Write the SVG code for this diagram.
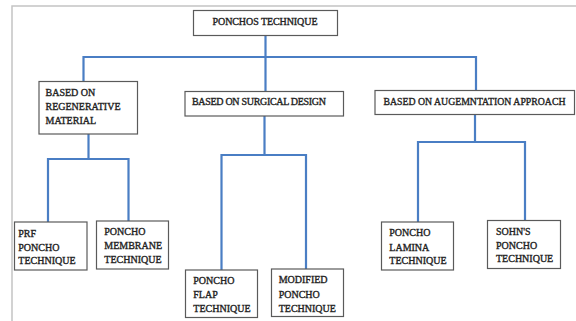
<svg xmlns="http://www.w3.org/2000/svg" width="576" height="321" viewBox="0 0 576 321">
<style>
.bg{fill:#ffffff}
.frame{fill:none;stroke:#c4c4c4;stroke-width:1.5}
.box{fill:#ffffff;stroke:#5a5a5a;stroke-width:1.2}
.lbl{font-family:"Liberation Serif","Times New Roman",serif;font-size:10px;font-weight:normal;fill:#222222;stroke:#222222;stroke-width:0.35}
.conn{fill:none;stroke:#4a7ec4;stroke-width:2.2;stroke-linejoin:miter}
</style>
<rect class="bg" x="0" y="0" width="576" height="321"/>
<path class="frame" d="M12,321 V6 H576"/>
<g id="connectors">
<path class="conn" d="M265.5,35.5 V57"/>
<path class="conn" d="M83.5,82 V57 H476 V91"/>
<path class="conn" d="M265.5,57 V92"/>
<path class="conn" d="M88.5,134 V159"/>
<path class="conn" d="M48,222 V159 H128.5 V221"/>
<path class="conn" d="M264.5,116 V155"/>
<path class="conn" d="M221.5,270 V155 H306 V269"/>
<path class="conn" d="M475,114.5 V142"/>
<path class="conn" d="M418,222 V142 H525 V221"/>
</g>
<g id="root">
<rect class="box" x="193.5" y="10.5" width="144" height="25"/>
<text class="lbl" x="212.5" y="25" textLength="105" lengthAdjust="spacing">PONCHOS TECHNIQUE</text>
</g>
<g id="regenerative">
<rect class="box" x="39" y="81.5" width="98.5" height="52.5"/>
<text class="lbl" x="45.5" y="96">BASED ON</text>
<text class="lbl" x="45.5" y="110.3">REGENERATIVE</text>
<text class="lbl" x="45.5" y="124.3">MATERIAL</text>
</g>
<g id="surgical">
<rect class="box" x="185" y="91.5" width="158.5" height="24.5"/>
<text class="lbl" x="192" y="105.3" textLength="134" lengthAdjust="spacing">BASED ON SURGICAL DESIGN</text>
</g>
<g id="augmentation">
<rect class="box" x="375" y="90.5" width="199.5" height="24"/>
<text class="lbl" x="383.5" y="105" textLength="182" lengthAdjust="spacingAndGlyphs">BASED ON AUGEMNTATION APPROACH</text>
</g>
<g id="prf">
<rect class="box" x="14.5" y="222" width="72.5" height="48"/>
<text class="lbl" x="18.3" y="236.7">PRF</text>
<text class="lbl" x="18.3" y="250.7">PONCHO</text>
<text class="lbl" x="18.3" y="264.3">TECHNIQUE</text>
</g>
<g id="membrane">
<rect class="box" x="96.5" y="221" width="72" height="48"/>
<text class="lbl" x="104.3" y="235">PONCHO</text>
<text class="lbl" x="104.3" y="249.3">MEMBRANE</text>
<text class="lbl" x="104.3" y="263">TECHNIQUE</text>
</g>
<g id="flap">
<rect class="box" x="185.5" y="270" width="72" height="47.5"/>
<text class="lbl" x="193.3" y="284">PONCHO</text>
<text class="lbl" x="193.3" y="298">FLAP</text>
<text class="lbl" x="193.3" y="312">TECHNIQUE</text>
</g>
<g id="modified">
<rect class="box" x="271.5" y="269" width="72" height="47.5"/>
<text class="lbl" x="278.7" y="283.3">MODIFIED</text>
<text class="lbl" x="278.7" y="297.7">PONCHO</text>
<text class="lbl" x="278.7" y="311.7">TECHNIQUE</text>
</g>
<g id="lamina">
<rect class="box" x="381.5" y="222" width="72" height="48"/>
<text class="lbl" x="389.3" y="235.7">PONCHO</text>
<text class="lbl" x="389.3" y="250.7">LAMINA</text>
<text class="lbl" x="389.3" y="264.3">TECHNIQUE</text>
</g>
<g id="sohn">
<rect class="box" x="487.5" y="220.5" width="73" height="48"/>
<text class="lbl" x="496" y="235">SOHN'S</text>
<text class="lbl" x="496" y="248.7">PONCHO</text>
<text class="lbl" x="496" y="262.3">TECHNIQUE</text>
</g>
</svg>
